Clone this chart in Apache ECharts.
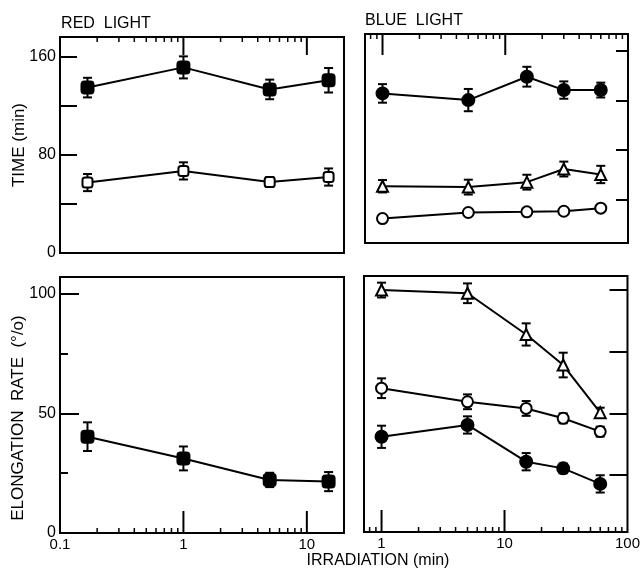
<!DOCTYPE html>
<html><head><meta charset="utf-8">
<script src="https://cdn.jsdelivr.net/npm/echarts@6.0.0/dist/echarts.min.js"></script>
<style>html,body{margin:0;padding:0;background:#fff}#c{width:643px;height:570px}</style>
</head><body><div id="c"></div>
<script>
// ---- data (irradiation in min) ----
const redX = [0.167, 1, 5, 15];
const blueX = [1, 5, 15, 30, 60];
const redTimeFilled = [135, 151.5, 133.5, 141];
const redTimeFilledErr = [8, 9, 8, 10];
const redTimeOpen = [57.5, 67, 58, 62];
const redTimeOpenErr = [7, 7, 4, 7];
const blueTimeFilled = [125.7, 120.3, 139.2, 128.4, 128.4];
const blueTimeFilledErr = [7.5, 9, 8, 7, 6];
const blueTimeTriangle = [50.7, 50, 54, 64.6, 60.2];
const blueTimeTriangleErr = [5, 6, 6, 6, 7];
const blueTimeOpen = [24.6, 29.5, 30, 30.5, 33];
const blueTimeOpenErr = [3, 2, 2, 2, 2];
const redRateFilled = [40.3, 31.2, 22.2, 21.5];
const redRateFilledErr = [6, 5, 3, 4];
const blueRateTriangle = [100, 98.7, 82, 69.6, 50.3];
const blueRateTriangleErr = [3, 4, 4.5, 5, 2];
const blueRateOpen = [60.2, 54.7, 52, 48, 42.6];
const blueRateOpenErr = [4, 3, 3, 2, 2];
const blueRateFilled = [40.5, 45.3, 30.4, 27.7, 21.4];
const blueRateFilledErr = [4.5, 3.5, 3.5, 2, 3.5];
// tick labels / tick positions
const redXTickLabels = ['0.1', '1', '10'];
const blueXTickLabels = ['1', '10', '100'];
const redXMajor = [1, 10];
const blueXMajor = [1, 10];
const redXMinor = [0.2,0.3,0.4,0.5,0.6,0.7,0.8,0.9,2,3,4,5,6,7,8,9];
const blueXMinor = [0.8,0.9,2,3,4,5,6,7,8,9,20,30,40,50,60,70,80,90];
const timeTickLabels = ['0', '80', '160'];
const timeTicks = [40, 80, 120, 160];
const rateTickLabels = ['0', '50', '100'];
const rateMinorTicks = [25, 75];
const rateTicks = [25, 50, 75, 100];

const FONT = 'Liberation Sans';
const gridStyle = {show:true, borderColor:'#000', borderWidth:2, backgroundColor:'transparent'};
const grids = [
  Object.assign({left:60, top:37, width:284, height:216}, gridStyle),
  Object.assign({left:365, top:34, width:263, height:209}, gridStyle),
  Object.assign({left:60, top:277, width:284, height:256}, gridStyle),
  Object.assign({left:364, top:276, width:265, height:256}, gridStyle)
];
const xRanges = [[0.1, 20], [0.72, 100], [0.1, 20], [0.72, 100]];
const yRanges = [[0, 176.3], [4.85, 173.7], [0, 107.1], [1.9, 105.7]];
const lg = Math.log10;
function xAxesFor(gi, labels, pos, showLabels) {
  const range = xRanges[gi];
  const majors = labels.map(Number).map(lg);
  return [
    {type:'log', gridIndex:gi, logBase:10, min:range[0], max:range[1], position:pos,
     axisLine:{show:false}, axisTick:{show:false}, axisLabel:{show:false}, splitLine:{show:false}},
    {type:'value', gridIndex:gi, position:pos, min:lg(range[0]), max:lg(range[1]),
     axisLine:{show:false}, axisTick:{show:false},
     axisLabel:{show:showLabels, customValues:majors, color:'#000', fontSize:15, fontFamily:FONT, margin:4,
       formatter:(v)=>{const l = labels.find(s=>Math.abs(lg(+s)-v)<1e-6); return l===undefined?'':l;}},
     splitLine:{show:false}}
  ];
}
const xAxis = [].concat(
  xAxesFor(0, redXTickLabels, 'top', false),
  xAxesFor(1, blueXTickLabels, 'top', false),
  xAxesFor(2, redXTickLabels, 'bottom', true),
  xAxesFor(3, blueXTickLabels, 'bottom', true)
);
function yAx(gi, pos, ticks, len, labels) {
  return {type:'value', gridIndex:gi, position:pos, min:yRanges[gi][0], max:yRanges[gi][1],
    axisLine:{show:false, onZero:false}, splitLine:{show:false},
    axisTick:{show:true, inside:true, length:len, customValues:ticks, lineStyle:{color:'#000', width:2}},
    axisLabel: labels ? {show:true, customValues:labels.map(Number), color:'#000', fontSize:16, fontFamily:FONT, margin:4} : {show:false}};
}
const yAxis = [
  yAx(0, 'left', timeTicks, 17, timeTickLabels),
  yAx(1, 'right', timeTicks, 12, null),
  yAx(2, 'left', rateTickLabels.map(Number), 19, rateTickLabels),
  yAx(3, 'right', rateTicks, 18, null),
  yAx(2, 'left', rateMinorTicks, 8, null)
];

function line(gi, xs, ys, symbol, filled, size) {
  return {type:'line', xAxisIndex:gi*2, yAxisIndex:gi, data:xs.map((x,i)=>[x, ys[i]]),
    symbol:symbol, symbolSize:size, showSymbol:true, showAllSymbol:true, animation:false, z:3,
    lineStyle:{color:'#000', width:2},
    itemStyle:{color: filled ? '#000' : '#fff', borderColor:'#000', borderWidth: 2}};
}
function err(gi, xs, ys, es) {
  return {type:'custom', xAxisIndex:gi*2, yAxisIndex:gi, z:1, animation:false, clip:false,
    data: xs.map((x,i)=>[x, ys[i]-es[i], ys[i]+es[i]]),
    encode:{x:0, y:[1,2]},
    renderItem:(params, api)=>{
      const lo = api.coord([api.value(0), api.value(1)]);
      const hi = api.coord([api.value(0), api.value(2)]);
      const w = 4.5, st = {stroke:'#000', lineWidth:2, fill:null};
      return {type:'group', children:[
        {type:'line', shape:{x1:lo[0], y1:lo[1], x2:hi[0], y2:hi[1]}, style:st},
        {type:'line', shape:{x1:lo[0]-w, y1:lo[1], x2:lo[0]+w, y2:lo[1]}, style:st},
        {type:'line', shape:{x1:hi[0]-w, y1:hi[1], x2:hi[0]+w, y2:hi[1]}, style:st}
      ]};
    }};
}
const series = [
  err(0, redX, redTimeFilled, redTimeFilledErr), line(0, redX, redTimeFilled, 'roundRect', true, 12),
  err(0, redX, redTimeOpen, redTimeOpenErr), line(0, redX, redTimeOpen, 'roundRect', false, 10),
  err(1, blueX, blueTimeFilled, blueTimeFilledErr), line(1, blueX, blueTimeFilled, 'circle', true, 12),
  err(1, blueX, blueTimeTriangle, blueTimeTriangleErr), line(1, blueX, blueTimeTriangle, 'triangle', false, 11),
  err(1, blueX, blueTimeOpen, blueTimeOpenErr), line(1, blueX, blueTimeOpen, 'circle', false, 11),
  err(2, redX, redRateFilled, redRateFilledErr), line(2, redX, redRateFilled, 'roundRect', true, 12),
  err(3, blueX, blueRateTriangle, blueRateTriangleErr), line(3, blueX, blueRateTriangle, 'triangle', false, 11),
  err(3, blueX, blueRateOpen, blueRateOpenErr), line(3, blueX, blueRateOpen, 'circle', false, 11),
  err(3, blueX, blueRateFilled, blueRateFilledErr), line(3, blueX, blueRateFilled, 'circle', true, 12)
];
function txt(text, x, y, rot, size) {
  return {type:'text', x:x, y:y, rotation:rot||0, z:10,
    style:{text:text, fill:'#000', font: (size||16)+'px "'+FONT+'"', textAlign:'center', textVerticalAlign:'middle'}};
}
const texts = [
  txt('RED  LIGHT', 106, 24, 0, 16),
  txt('BLUE  LIGHT', 414, 21, 0, 16),
  txt('TIME (min)', 19, 145, Math.PI/2, 17),
  txt('ELONGATION  RATE  (°/o)', 18, 418, Math.PI/2, 17),
  txt('IRRADIATION (min)', 378, 561, 0, 16)
];
const chart = echarts.init(document.getElementById('c'), null, {renderer:'canvas'});
chart.setOption({
  animation:false,
  backgroundColor:'#fff',
  grid:grids, xAxis:xAxis, yAxis:yAxis, series:series
});
// log-axis tick marks, positioned through the chart's own log scales
const tickSpecs = [
  [0, redXMinor, true, 5, 1.5], [0, redXMajor, true, 18, 2],
  [1, blueXMinor, true, 5, 1.5], [1, blueXMajor, true, 21, 2],
  [2, redXMinor, false, 5, 1.5], [2, redXMajor, false, 22, 2],
  [3, blueXMinor, false, 5, 1.5], [3, blueXMajor, false, 22, 2]
];
const tickEls = [];
tickSpecs.forEach(([gi, vals, atTop, len, w]) => {
  const edgeVal = atTop ? yRanges[gi][1] : yRanges[gi][0];
  const dir = atTop ? 1 : -1;
  vals.forEach(v => {
    const p = chart.convertToPixel({xAxisIndex: gi*2, yAxisIndex: gi}, [v, edgeVal]);
    if (!p || isNaN(p[0]) || isNaN(p[1])) return;
    tickEls.push({type:'line', z:10, silent:true,
      shape:{x1:p[0], y1:p[1], x2:p[0], y2:p[1] + dir*len},
      style:{stroke:'#000', lineWidth:w}});
  });
});
chart.setOption({graphic: texts.concat(tickEls)});
</script></body></html>
